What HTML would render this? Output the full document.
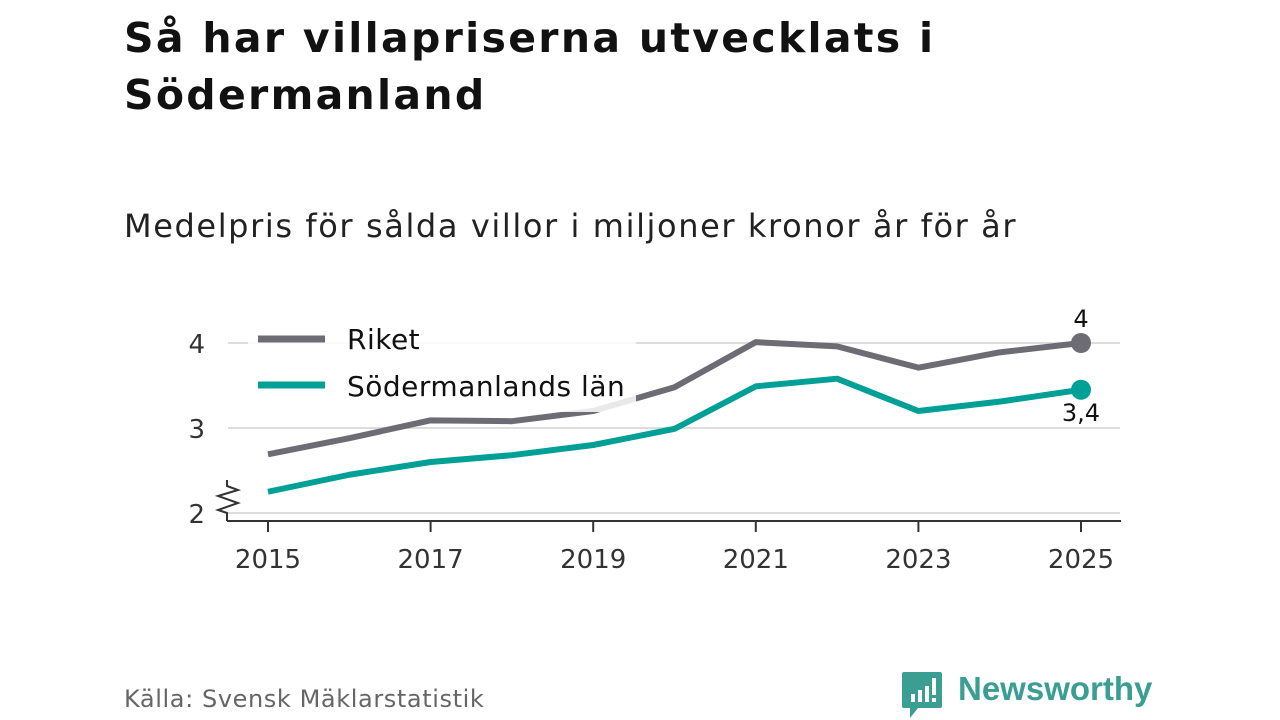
<!DOCTYPE html>
<html><head><meta charset="utf-8"><style>
body{margin:0;width:1280px;height:720px;background:#fff;font-family:"DejaVu Sans","Liberation Sans",sans-serif;overflow:hidden;position:relative}
.t{position:absolute;left:124px;top:10px;font-size:41px;font-weight:bold;color:#111;line-height:57px;margin:0;letter-spacing:2.3px}
.s{position:absolute;left:124px;top:207px;font-size:32px;color:#222;letter-spacing:1.6px}
.src{position:absolute;left:124px;top:685px;font-size:24px;color:#666;letter-spacing:0.6px}
</style></head><body>
<h1 class="t">Så har villapriserna utvecklats i<br>Södermanland</h1>
<div class="s">Medelpris för sålda villor i miljoner kronor år för år</div>
<div class="src">Källa: Svensk Mäklarstatistik</div>
<svg id="c" width="1280" height="720" style="position:absolute;left:0;top:0"></svg>
<div style="position:absolute;left:902px;top:672px;">
<svg width="42" height="48" style="position:absolute;left:0;top:0"><path d="M2 0h36a2 2 0 0 1 2 2v32a2 2 0 0 1-2 2H16l-8 10v-10H2a2 2 0 0 1-2-2V2a2 2 0 0 1 2-2z" fill="#3a9e93"/><rect x="9" y="22" width="4" height="8" fill="#fff"/><rect x="16" y="18" width="4" height="12" fill="#fff"/><rect x="23" y="14" width="4" height="16" fill="#fff"/><rect x="30" y="6" width="4" height="17" fill="#fff"/><rect x="30" y="26" width="4" height="4" fill="#fff"/></svg>
<span style="position:absolute;left:56px;top:-2px;font-size:33px;font-weight:bold;color:#3a9e93;white-space:nowrap;font-family:'Liberation Sans',sans-serif">Newsworthy</span></div>
<script>
const years=[2015,2016,2017,2018,2019,2020,2021,2022,2023,2024,2025];
const riket=[2.69,2.88,3.09,3.08,3.2,3.48,4.01,3.96,3.71,3.89,4.0];
const sodermanland=[2.25,2.45,2.6,2.68,2.8,2.99,3.49,3.58,3.2,3.31,3.45];
const yTicks=[2,3,4];
const xTicks=[2015,2017,2019,2021,2023,2025];
const NS="http://www.w3.org/2000/svg",svg=document.getElementById('c');
const x=v=>268+(v-2015)*81.3, y=v=>513-(v-2)*85;
function el(t,a,p){const e=document.createElementNS(NS,t);for(const k in a)e.setAttribute(k,a[k]);(p||svg).appendChild(e);return e;}
yTicks.forEach(v=>{
const g=el('line',{x1:228,x2:1120,y1:y(v),y2:y(v),stroke:'#ddd','stroke-width':2});


const t=el('text',{x:205,y:y(v)+10,'text-anchor':'end','font-size':26,fill:'#333'});t.textContent=v;


});
const ax=el('line',{x1:227,x2:1121,y1:521,y2:521,stroke:'#333','stroke-width':2});


el('polyline',{points:'227,521 227,513 218,510 238,503 218,496 238,490 227,486 227,480',fill:'none',stroke:'#333','stroke-width':2});
xTicks.forEach(v=>{
el('line',{x1:x(v),x2:x(v),y1:521,y2:532,stroke:'#333','stroke-width':2});
const t=el('text',{x:x(v),y:568,'text-anchor':'middle','font-size':26,fill:'#333'});t.textContent=v;


});
function line(d,c,n){const p=el('polyline',{points:d.map((v,i)=>x(years[i])+','+y(v)).join(' '),fill:'none',stroke:c,'stroke-width':6,'stroke-linejoin':'round'});


const dot=el('circle',{cx:x(years[d.length-1]),cy:y(d[d.length-1]),r:10,fill:c});

}
line(riket,'#6d6c74','riket-line');
line(sodermanland,'#00a096','sodermanland-line');
const l1=el('text',{x:x(2025),y:y(riket[10])-16,'text-anchor':'middle','font-size':24,fill:'#111'});l1.textContent='4';


const l2=el('text',{x:x(2025),y:y(sodermanland[10])+31,'text-anchor':'middle','font-size':24,fill:'#111'});l2.textContent='3,4';


const lg=el('g',{});


el('rect',{x:248,y:318,width:388,height:94,fill:'#fff','fill-opacity':0.85},lg);
el('line',{x1:258,x2:325,y1:339,y2:339,stroke:'#6d6c74','stroke-width':7},lg);
el('line',{x1:258,x2:325,y1:385,y2:385,stroke:'#00a096','stroke-width':7},lg);
const a=el('text',{x:347,y:349,'font-size':28,fill:'#111','letter-spacing':0.5},lg);a.textContent='Riket';
const b=el('text',{x:347,y:396,'font-size':28,fill:'#111','letter-spacing':0.5},lg);b.textContent='Södermanlands län';
</script>
</body></html>
